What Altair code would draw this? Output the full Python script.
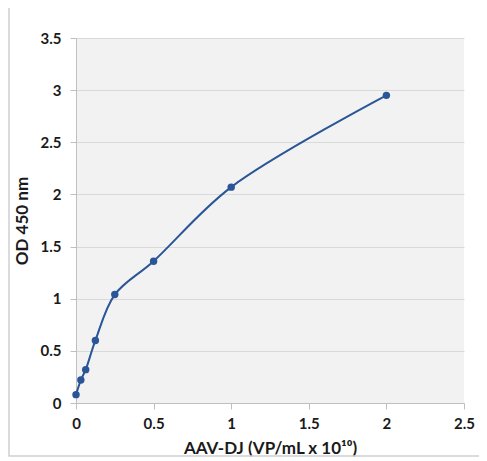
import pandas as pd
import altair as alt

# AAV-DJ standard curve (VP/mL x 10^10) vs OD 450 nm
conc = [0, 0.03125, 0.0625, 0.125, 0.25, 0.5, 1, 2]
od450 = [0.08, 0.22, 0.32, 0.60, 1.04, 1.36, 2.07, 2.95]

df = pd.DataFrame({'conc': conc, 'od': od450})

blue = '#2a5597'
font = 'Lato'

x = alt.X('conc:Q',
          scale=alt.Scale(domain=[0, 2.5], nice=False),
          axis=alt.Axis(title='AAV-DJ (VP/mL x 10¹⁰)', values=[0, 0.5, 1, 1.5, 2, 2.5],
                        format='.1~f', labelFlush=False,
                        grid=False, tickSize=6, labelPadding=7, titlePadding=9))
y = alt.Y('od:Q',
          scale=alt.Scale(domain=[0, 3.5], nice=False),
          axis=alt.Axis(title='OD 450 nm', values=[0, 0.5, 1, 1.5, 2, 2.5, 3, 3.5],
                        format='.1~f', labelFlush=False,
                        grid=True, tickSize=6, labelPadding=9, titlePadding=9))

line = alt.Chart(df).mark_line(color=blue, strokeWidth=2, interpolate='catmull-rom').encode(x=x, y=y)
pts = alt.Chart(df).mark_point(filled=True, color=blue, size=55, opacity=1).encode(x=x, y=y)

# outer frame around the whole figure
frame = alt.Chart(pd.DataFrame({'a': [0]})).mark_rect(
    fill=None, stroke='#d0d0d0', strokeWidth=1.5, clip=False
).encode(x=alt.value(-67), x2=alt.value(407), y=alt.value(-34), y2=alt.value(418))

chart = (frame + line + pts).properties(
    width=388, height=365,
    autosize=alt.AutoSizeParams(type='none'),
    padding={'left': 68, 'top': 30, 'right': 15, 'bottom': 58},
).configure_view(
    fill='#f2f2f2', stroke=None
).configure_axis(
    labelFont=font, titleFont=font,
    labelFontSize=15, labelFontWeight='bold', labelColor='#1a1a1a',
    titleFontSize=17, titleFontWeight='bold', titleColor='#1a1a1a',
    domainColor='#bfbfbf', tickColor='#bfbfbf', gridColor='#d9d9d9',
    domainWidth=1, gridWidth=1
)

chart.save("out.html", embed_options={"renderer": "svg", "actions": False})
